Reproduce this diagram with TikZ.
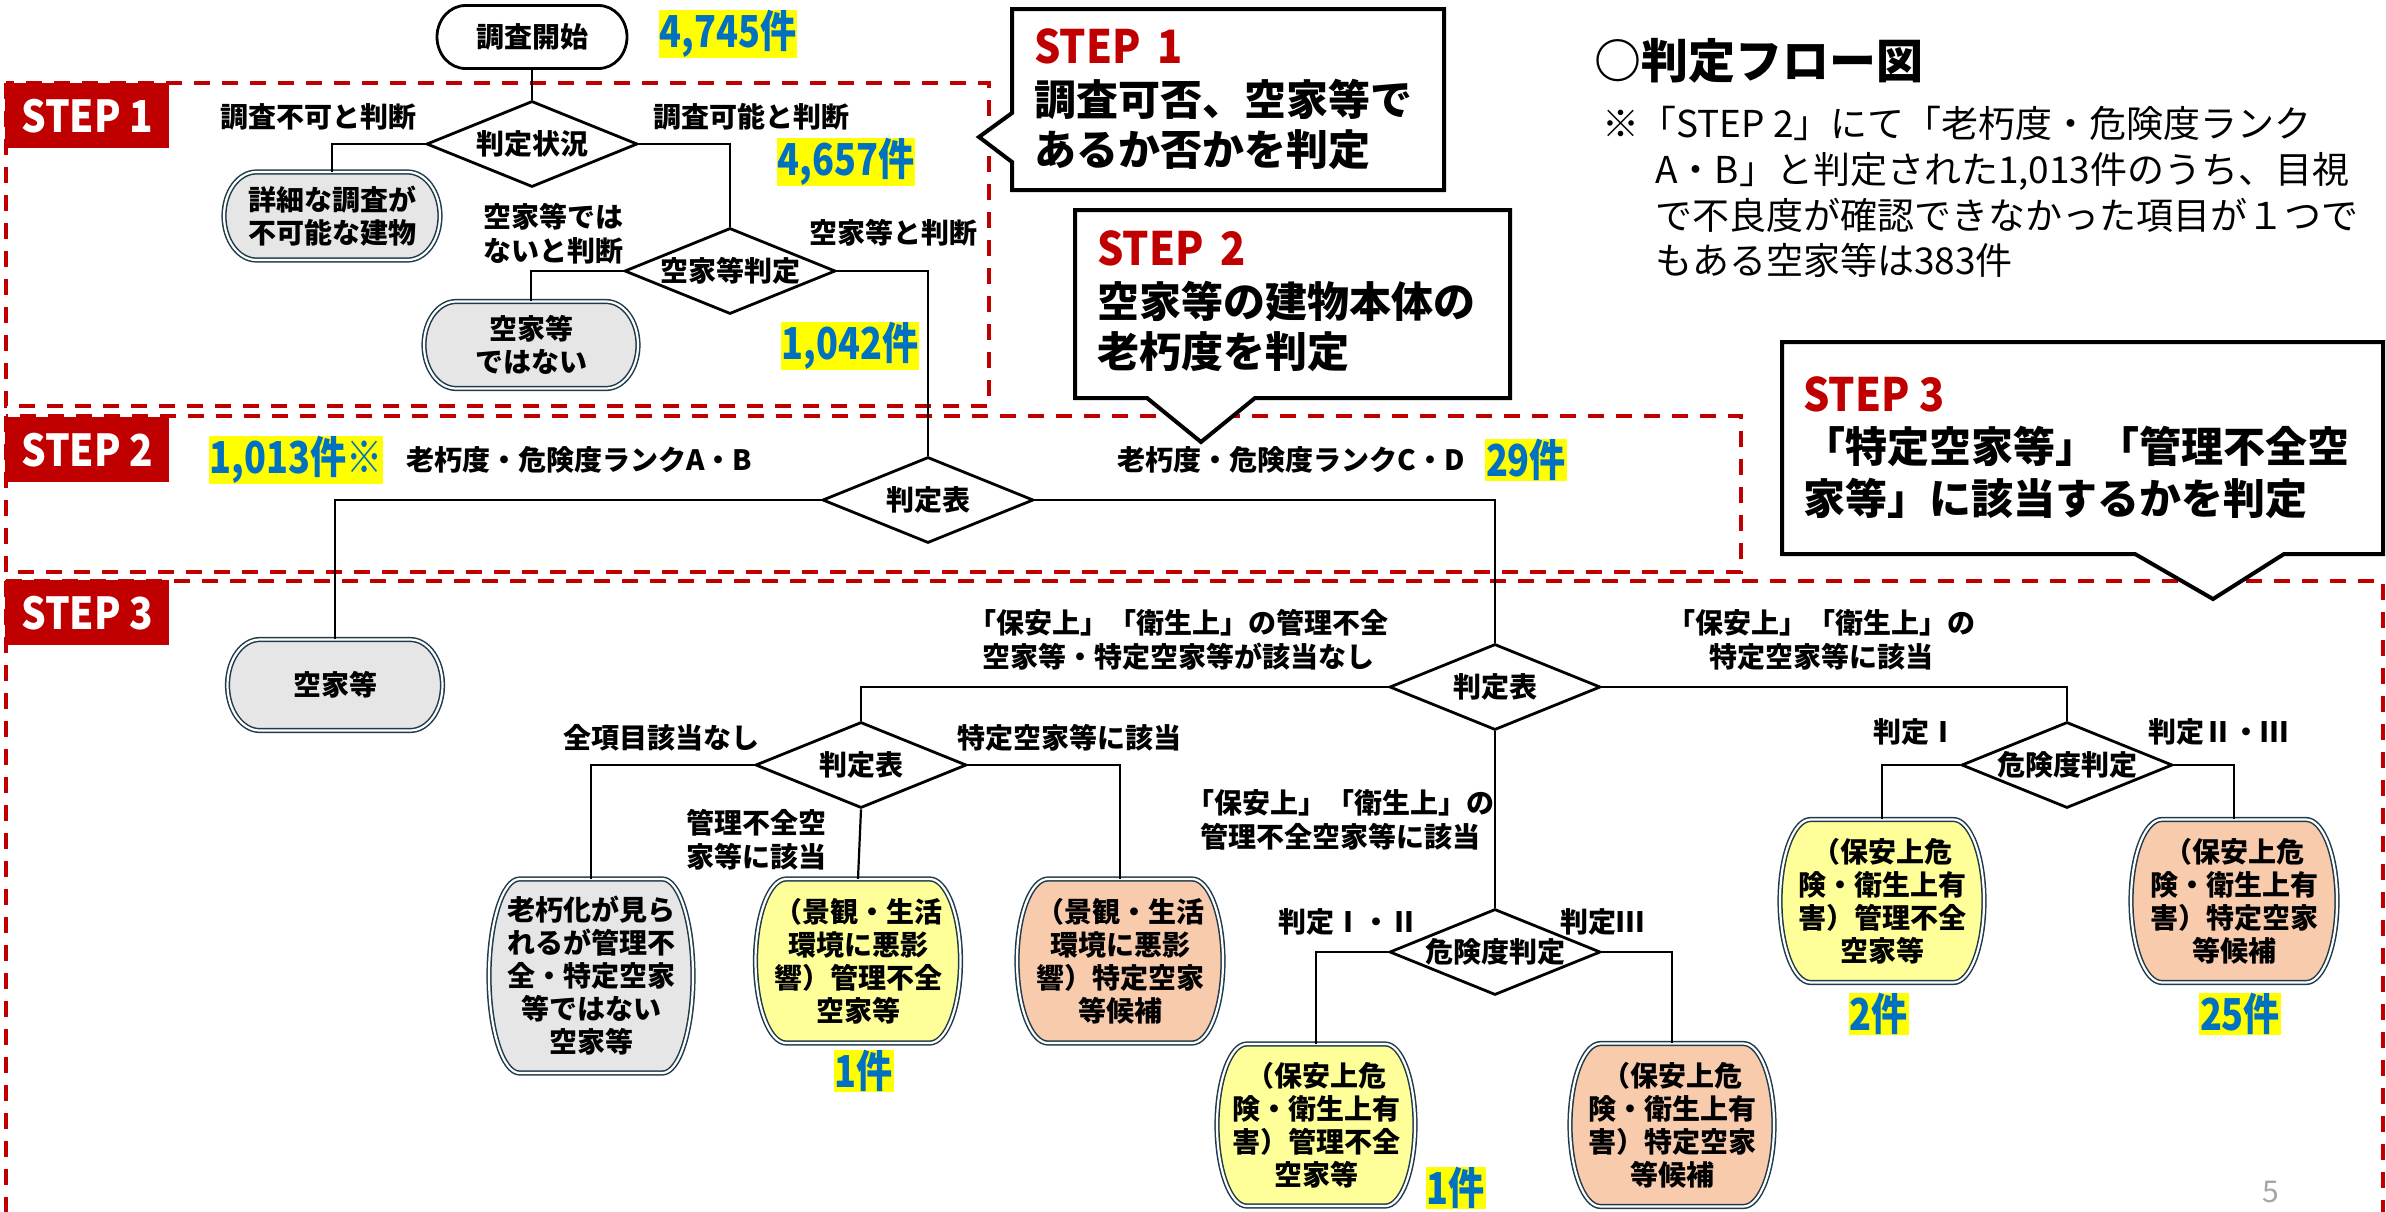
\documentclass[tikz,border=0pt]{standalone}
\usepackage{fontspec}
\setmainfont{Noto Sans CJK JP}
\usepackage{graphicx}
\usetikzlibrary{shapes.geometric}
\definecolor{stepred}{HTML}{C00000}
\definecolor{cntblue}{HTML}{0070C0}
\definecolor{hl}{HTML}{FFFF00}
\definecolor{gfill}{HTML}{E7E6E6}
\definecolor{yfill}{HTML}{FFFF99}
\definecolor{sfill}{HTML}{F8CBAD}
\definecolor{bordc}{HTML}{1F3A4A}
\definecolor{pggray}{HTML}{A6A6A6}
% terminator-like box: name, cx, cy, w, h, path style, text
\newcommand\TermBox[7]{%
 \pgfmathsetmacro\tbL{#2-#4/2}\pgfmathsetmacro\tbR{#2+#4/2}%
 \pgfmathsetmacro\tbT{#3-#5/2}\pgfmathsetmacro\tbB{#3+#5/2}%
 \pgfmathsetmacro\tbrx{0.15*#4}\pgfmathsetmacro\tbry{#5/2}%
 \pgfmathsetmacro\tbLi{\tbL+\tbrx}\pgfmathsetmacro\tbRi{\tbR-\tbrx}%
 \pgfmathsetmacro\tbkx{0.5523*\tbrx}\pgfmathsetmacro\tbky{0.5523*\tbry}%
 \path[#6] (\tbLi,\tbT) -- (\tbRi,\tbT)
   .. controls (\tbRi+\tbkx,\tbT) and (\tbR,#3-\tbky) .. (\tbR,#3)
   .. controls (\tbR,#3+\tbky) and (\tbRi+\tbkx,\tbB) .. (\tbRi,\tbB)
   -- (\tbLi,\tbB)
   .. controls (\tbLi-\tbkx,\tbB) and (\tbL,#3+\tbky) .. (\tbL,#3)
   .. controls (\tbL,#3-\tbky) and (\tbLi-\tbkx,\tbT) .. (\tbLi,\tbT) -- cycle;
 \node[boxtext, minimum width=#4pt, minimum height=#5pt] (#1) at (#2,#3) {#7};
}
\newcommand\CntTxt[1]{\scalebox{0.82}[1]{#1}}
\newcommand\StepTxt[1]{\scalebox{0.9}[1]{#1}}
\begin{document}
\begin{tikzpicture}[x=1pt,y=-1pt,
  lbl/.style={font=\bfseries\fontsize{28}{34}\selectfont, align=center, inner sep=0pt},
  boxtext/.style={font=\bfseries\fontsize{28}{33}\selectfont, align=center, inner sep=0pt},
  cnt/.style={fill=hl, text=cntblue, font=\bfseries\fontsize{44}{46}\selectfont, inner xsep=1pt, inner ysep=0.5pt},
  dia/.style={diamond, draw, line width=2.8pt, fill=white, minimum width=211pt, minimum height=86pt, inner sep=0pt, font=\bfseries\fontsize{28}{33}\selectfont},
  conn/.style={line width=2.2pt},
  stepbox/.style={draw=stepred, line width=4pt, dash pattern=on 16pt off 12pt},
  steplab/.style={fill=stepred, text=white, font=\bfseries\fontsize{44}{48}\selectfont, minimum width=164pt, minimum height=65pt, inner sep=0pt, anchor=north west},
  callout/.style={draw, line width=4pt, fill=white, line join=miter},
  ctext/.style={font=\bfseries\fontsize{42}{52}\selectfont, inner sep=0pt, anchor=base west},
  cstep/.style={ctext, text=stepred, font=\bfseries\fontsize{46}{52}\selectfont},
  note/.style={font=\fontsize{37}{46}\selectfont, inner sep=0pt, anchor=base west},
  dbl/.style={draw=bordc, line width=1.5pt, double=white, double distance=2.2pt, fill=#1},
  startsty/.style={draw=black, line width=2.8pt, fill=white}]
\useasboundingbox (0,0) rectangle (2386,1211);
\fill[white] (0,0) rectangle (2386,1211);

% dashed step regions
\draw[stepbox] (6,83) rectangle (989,406);
\draw[stepbox] (6,416) rectangle (1741,572);
\draw[stepbox] (6,581) rectangle (2383,1250);

% step labels
\node[steplab] (s1) at (5,83) {\scalebox{0.88}[1]{STEP 1}};
\node[steplab] (s2) at (5,417) {\scalebox{0.88}[1]{STEP 2}};
\node[steplab] (s3) at (5,580) {\scalebox{0.88}[1]{STEP 3}};

% boxes
\TermBox{st}{532}{37}{190}{63}{startsty}{調査開始}
\TermBox{b1}{332}{216}{216}{88}{dbl=gfill}{詳細な調査が\\不可能な建物}
\TermBox{b2}{531}{345}{214}{87}{dbl=gfill}{空家等\\ではない}
\TermBox{b3}{335}{685}{215}{91}{dbl=gfill}{空家等}
\TermBox{b4}{591}{976}{204}{194}{dbl=gfill}{老朽化が見ら\\れるが管理不\\全・特定空家\\等ではない\\空家等}
\TermBox{b5}{858}{961}{205}{164}{dbl=yfill}{（景観・生活\\環境に悪影\\響）管理不全\\空家等}
\TermBox{b6}{1120}{961}{206}{164}{dbl=sfill}{（景観・生活\\環境に悪影\\響）特定空家\\等候補}
\TermBox{b7}{1316}{1125}{198}{162}{dbl=yfill}{（保安上危\\険・衛生上有\\害）管理不全\\空家等}
\TermBox{b8}{1672}{1125}{204}{163}{dbl=sfill}{（保安上危\\険・衛生上有\\害）特定空家\\等候補}
\TermBox{b9}{1882}{901}{204}{163}{dbl=yfill}{（保安上危\\険・衛生上有\\害）管理不全\\空家等}
\TermBox{b10}{2234}{901}{206}{163}{dbl=sfill}{（保安上危\\険・衛生上有\\害）特定空家\\等候補}

% diamonds
\node[dia] (d1) at (532,144) {\makebox[0pt]{判定状況}};
\node[dia] (d2) at (730,271) {\makebox[0pt]{空家等判定}};
\node[dia] (d3) at (928,500) {\makebox[0pt]{判定表}};
\node[dia] (d4) at (1495,687) {\makebox[0pt]{判定表}};
\node[dia] (d5) at (861,765) {\makebox[0pt]{判定表}};
\node[dia] (d6) at (2067,765) {\makebox[0pt]{危険度判定}};
\node[dia] (d7) at (1495,952) {\makebox[0pt]{危険度判定}};

% connectors
\draw[conn] (st.south) -- (d1.north);
\draw[conn] (d1.west) -| (b1.north);
\draw[conn] (d1.east) -| (d2.north);
\draw[conn] (d2.west) -| (b2.north);
\draw[conn] (d2.east) -| (d3.north);
\draw[conn] (d3.west) -| (b3.north);
\draw[conn] (d3.east) -| (d4.north);
\draw[conn] (d4.west) -| (d5.north);
\draw[conn] (d4.east) -| (d6.north);
\draw[conn] (d4.south) -- (d7.north);
\draw[conn] (d5.west) -| (b4.north);
\draw[conn] (d5.south) -- (b5.north);
\draw[conn] (d5.east) -| (b6.north);
\draw[conn] (d7.west) -| (b7.north);
\draw[conn] (d7.east) -| (b8.north);
\draw[conn] (d6.west) -| (b9.north);
\draw[conn] (d6.east) -| (b10.north);

% branch labels
\node[lbl] (l1) at (318,117) {調査不可と判断};
\node[lbl] (l2) at (751,117) {調査可能と判断};
\node[lbl, align=left] (l3) at (553,234) {空家等では\\ないと判断};
\node[lbl] (l4) at (893,233) {空家等と判断};
\node[lbl] (l5) at (579,460) {老朽度・危険度ランクA・B};
\node[lbl] (l6) at (1291,460) {老朽度・危険度ランクC・D};
\node[lbl] (l7) at (1178,640) {「保安上」「衛生上」の管理不全\\空家等・特定空家等が該当なし};
\node[lbl] (l8) at (1821,640) {「保安上」「衛生上」の\\特定空家等に該当};
\node[lbl] (l9) at (661,738) {全項目該当なし};
\node[lbl] (l10) at (1069,738) {特定空家等に該当};
\node[lbl, align=left] (l11) at (756,840) {管理不全空\\家等に該当};
\node[lbl] (l12) at (1340,820) {「保安上」「衛生上」の\\管理不全空家等に該当};
\node[lbl] (l13) at (1348,922) {判定Ⅰ・Ⅱ};
\node[lbl] (l14) at (1602,922) {判定Ⅲ};
\node[lbl] (l15) at (1915,732) {判定Ⅰ};
\node[lbl] (l16) at (2218,732) {判定Ⅱ・Ⅲ};

% counts
\node[cnt] (c1) at (728,34) {\CntTxt{4,745件}};
\node[cnt] (c2) at (846,162) {\CntTxt{4,657件}};
\node[cnt] (c3) at (850,346) {\CntTxt{1,042件}};
\node[cnt] (c4) at (296,460) {\CntTxt{1,013件※}};
\node[cnt] (c5) at (1526,460) {\CntTxt{29件}};
\node[cnt] (c6) at (864,1071) {\CntTxt{1件}};
\node[cnt] (c7) at (1456,1188) {\CntTxt{1件}};
\node[cnt] (c8) at (1879,1014) {\CntTxt{2件}};
\node[cnt] (c9) at (2240,1014) {\CntTxt{25件}};

% callouts
\draw[callout] (1012,9) -- (1444,9) -- (1444,190) -- (1012,190) -- (1012,162) -- (979,137) -- (1012,113) -- cycle;
\node[cstep] (k1a) at (1034,63) {\StepTxt{STEP\hspace{0.4em}1}};
\node[ctext] (k1b) at (1034,115) {調査可否、空家等で};
\node[ctext] (k1c) at (1034,165) {あるか否かを判定};

\draw[callout] (1075,210) -- (1510,210) -- (1510,398) -- (1255,398) -- (1201,442) -- (1147,398) -- (1075,398) -- cycle;
\node[cstep] (k2a) at (1097,265) {\StepTxt{STEP\hspace{0.4em}2}};
\node[ctext] (k2b) at (1097,317) {空家等の建物本体の};
\node[ctext] (k2c) at (1097,367) {老朽度を判定};

\draw[callout] (1782,342) -- (2383,342) -- (2383,554) -- (2284,554) -- (2213,599) -- (2135,554) -- (1782,554) -- cycle;
\node[cstep] (k3a) at (1803,411) {\StepTxt{STEP 3}};
\node[ctext] (k3b) at (1803,462) {「特定空家等」「管理不全空};
\node[ctext] (k3c) at (1803,514) {家等」に該当するかを判定};

% title and note
\node[ctext, font=\bfseries\fontsize{47}{52}\selectfont] (tt) at (1594,78) {○判定フロー図};
\node[note] (n1) at (1602,137) {※「STEP 2」にて「老朽度・危険度ランク};
\node[note] (n2) at (1655,183) {A・B」と判定された1,013件のうち、目視};
\node[note] (n3) at (1655,229) {で不良度が確認できなかった項目が１つで};
\node[note] (n4) at (1655,274) {もある空家等は383件};

\node[font=\fontsize{30}{32}\selectfont, text=pggray, inner sep=0pt] (pg) at (2271,1192) {5};
\end{tikzpicture}
\end{document}
